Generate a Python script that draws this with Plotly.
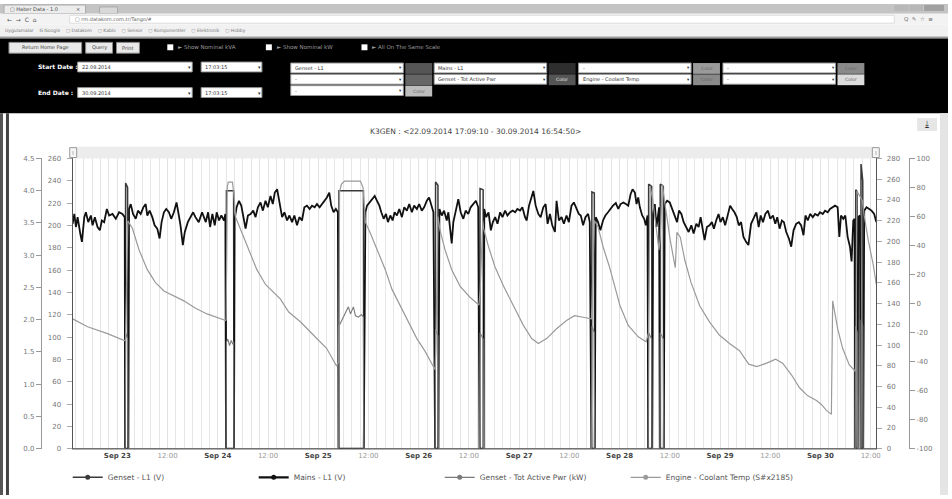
import numpy as np
import pandas as pd
import plotly.graph_objects as go

# ---------------- data (hours since 2014-09-22 00:00 UTC) ----------------
mains_h = [13.32, 13.72, 14.11, 14.51, 15.14, 15.54, 16.10, 16.49, 17.05, 17.68, 18.08, 18.63, 19.27, 19.82,
           20.30, 20.85, 21.49, 22.04, 22.84, 23.63, 24.42, 25.21, 25.77, 25.85, 26.64, 26.80, 27.20, 27.75,
           28.39, 28.94, 29.58, 30.21, 30.77, 31.16, 31.72, 32.35, 32.91, 33.54, 34.10, 34.57, 35.13, 35.68,
           36.32, 36.87, 37.51, 38.14, 38.70, 39.09, 39.65, 40.12, 40.84, 41.47, 42.11, 42.66, 43.45, 44.25,
           45.13, 45.68, 46.16, 46.71, 47.27, 47.74, 48.30, 48.85, 49.49, 49.81, 49.96, 51.87, 52.03, 52.50,
           53.06, 53.61, 54.09, 54.64, 55.20, 55.83, 56.47, 57.02, 57.58, 58.21, 58.77, 59.40, 59.96, 60.59,
           61.15, 61.62, 62.18, 62.73, 63.37, 63.92, 64.56, 65.11, 65.74, 66.30, 66.93, 67.49, 68.12, 68.68,
           69.31, 69.95, 70.50, 71.14, 71.69, 72.33, 72.96, 73.52, 74.07, 74.63, 75.10, 75.66, 76.21, 76.69,
           76.85, 82.87, 83.27, 83.66, 84.30, 84.85, 85.49, 86.04, 86.60, 87.07, 87.63, 88.18, 88.66, 89.22,
           89.77, 90.25, 90.80, 91.36, 91.99, 92.55, 93.18, 93.74, 94.37, 94.92, 95.56, 96.11, 96.75, 97.30,
           97.94, 98.49, 98.97, 99.52, 99.92, 100.71, 100.95, 101.51, 102.06, 102.70, 103.09, 103.49, 103.89,
           104.28, 104.84, 105.47, 106.03, 106.66, 107.22, 107.85, 108.41, 109.04, 109.67, 110.23, 110.54,
           111.50, 111.65, 112.13, 112.69, 113.24, 113.72, 114.27, 114.83, 115.46, 116.02, 116.65, 117.21,
           117.84, 118.47, 119.03, 119.58, 120.22, 120.77, 121.41, 121.81, 122.36, 122.99, 123.39, 123.95,
           124.58, 125.14, 125.77, 126.33, 126.80, 127.36, 127.91, 128.55, 128.94, 129.50, 130.13, 130.69,
           131.32, 131.88, 132.51, 133.07, 133.70, 134.25, 134.73, 135.29, 135.84, 136.48, 136.87, 137.27,
           138.06, 138.30, 138.85, 139.41, 140.04, 140.60, 141.23, 141.79, 142.42, 143.10, 143.69, 144.24,
           144.88, 145.51, 146.07, 146.62, 147.10, 147.65, 148.05, 148.45, 148.84, 149.40, 149.87, 150.27,
           150.67, 150.83, 151.78, 152.02, 152.41, 152.81, 153.21, 153.44, 153.60, 154.55, 154.79, 155.35,
           155.98, 156.54, 157.17, 157.73, 158.20, 158.76, 159.31, 159.95, 160.50, 161.14, 161.69, 162.33,
           162.88, 163.36, 163.91, 164.31, 164.86, 165.50, 166.05, 166.53, 167.08, 167.64, 168.11, 168.67,
           169.22, 169.86, 170.41, 170.89, 171.44, 172.00, 172.48, 173.03, 173.59, 174.22, 174.78, 175.41,
           176.04, 176.68, 177.23, 177.71, 178.26, 178.82, 179.45, 180.01, 180.64, 181.20, 181.67, 182.23,
           182.78, 183.26, 183.81, 184.45, 185.00, 185.56, 186.19, 186.83, 187.38, 187.94, 188.41, 188.97,
           189.52, 190.16, 190.71, 191.35, 191.90, 192.54, 193.09, 193.73, 194.28, 194.92, 195.47, 196.10,
           196.50, 196.90, 197.45, 197.93, 198.48, 199.04, 199.43, 199.83, 200.15, 200.31, 200.86, 201.02,
           201.42, 201.58, 202.21, 202.45, 203.00, 203.64, 204.19, 204.83, 205.33]
mains_v = [217.0, 226.5, 213.9, 223.4, 207.6, 199.6, 223.4, 228.1, 218.6, 225.0, 215.5, 223.4, 213.9, 210.7,
           220.2, 218.6, 231.3, 225.0, 226.5, 221.8, 228.1, 226.5, 223.4, 0, 0, 231.3, 236.0, 226.5,
           221.8, 229.7, 226.5, 232.9, 236.0, 225.0, 229.7, 223.4, 215.5, 212.3, 202.8, 218.6, 228.1, 231.3,
           228.1, 221.8, 228.1, 237.6, 225.0, 215.5, 196.5, 209.1, 218.6, 223.4, 228.1, 223.4, 218.6, 228.1,
           218.6, 228.1, 213.9, 226.5, 215.5, 228.1, 220.2, 225.0, 220.2, 226.5, 0, 0, 221.8, 232.9,
           239.2, 234.5, 223.4, 212.3, 225.0, 226.5, 229.7, 223.4, 232.9, 237.6, 229.7, 239.2, 232.9, 243.9,
           236.0, 247.1, 250.3, 236.0, 223.4, 228.1, 220.2, 225.0, 218.6, 225.0, 215.5, 223.4, 220.2, 232.9,
           234.5, 231.3, 234.5, 232.9, 236.0, 232.9, 236.0, 239.2, 242.4, 247.1, 234.5, 228.1, 231.3, 228.1,
           0, 0, 228.1, 234.5, 237.6, 240.8, 243.9, 239.2, 234.5, 228.1, 221.8, 226.5, 218.6, 225.0,
           220.2, 228.1, 225.0, 231.3, 223.4, 232.9, 229.7, 236.0, 228.1, 234.5, 231.3, 236.0, 229.7, 232.9,
           239.2, 242.4, 234.5, 228.1, 0, 0, 231.3, 225.0, 229.7, 220.2, 228.1, 210.7, 198.1,
           218.6, 229.7, 240.8, 228.1, 221.8, 229.7, 226.5, 232.9, 236.0, 239.2, 232.9, 0,
           0, 231.3, 223.4, 228.1, 210.7, 218.6, 223.4, 217.0, 228.1, 223.4, 229.7, 225.0,
           228.1, 229.7, 228.1, 231.3, 229.7, 232.9, 223.4, 220.2, 234.5, 243.9, 248.7, 234.5,
           226.5, 223.4, 232.9, 236.0, 217.0, 226.5, 215.5, 209.1, 239.2, 220.2, 223.4, 217.0,
           225.0, 218.6, 234.5, 237.6, 231.3, 226.5, 225.0, 215.5, 223.4, 226.5, 218.6, 0,
           0, 223.4, 218.6, 210.7, 220.2, 225.0, 228.1, 231.3, 234.5, 237.0, 231.3, 236.0,
           237.6, 236.0, 234.5, 245.5, 250.3, 247.1, 236.0, 242.4, 232.9, 225.0, 221.8, 215.5,
           225.0, 0, 0, 226.5, 236.0, 213.9, 228.1, 232.9, 0, 0, 236.0, 239.2,
           237.6, 231.3, 223.4, 218.6, 229.7, 226.5, 218.6, 213.9, 209.1, 215.5, 207.6, 217.0,
           213.9, 223.4, 210.7, 201.2, 213.9, 215.5, 218.6, 212.3, 220.2, 226.5, 218.6, 223.4,
           215.5, 226.5, 234.5, 231.3, 228.1, 223.4, 215.5, 218.6, 204.4, 199.6, 196.5, 217.0,
           223.4, 228.1, 213.9, 225.0, 218.6, 226.5, 229.7, 221.8, 225.0, 217.0, 223.4, 212.3,
           220.2, 218.6, 209.1, 202.8, 194.9, 210.7, 217.0, 218.6, 215.5, 206.0, 225.0, 220.2,
           226.5, 223.4, 226.5, 225.0, 228.1, 226.5, 229.7, 228.1, 231.3, 232.9, 234.5, 232.9,
           204.4, 225.0, 221.8, 225.0, 204.4, 194.9, 180.7, 220.2, 221.8, 0, 0, 223.4,
           225.0, 0, 0, 229.7, 232.9, 231.3, 229.7, 226.5, 218.6]

genset_h = [13.32, 25.88, 25.98, 26.45, 26.58, 49.97, 50.06, 51.78, 51.86, 76.86, 76.95, 82.80, 82.88,
            99.94, 100.03, 100.60, 100.70, 110.56, 110.66, 111.40, 111.49, 137.29, 137.38, 137.96, 138.05,
            150.85, 150.94, 151.66, 151.76, 153.62, 153.71, 154.45, 154.54, 200.33, 200.42, 200.78, 200.86,
            201.60, 201.68, 202.10, 202.19, 205.33]
genset_v = [0, 0, 238, 234, 0, 0, 231, 231, 0, 0, 231, 231, 0,
            0, 239, 236, 0, 0, 233, 232, 0, 0, 230, 229, 0,
            0, 237, 235, 0, 0, 237, 235, 0, 0, 232, 230, 0,
            0, 255, 240, 0, 0]

power_h = [13.32, 25.88, 25.98, 26.45, 26.58, 49.97, 50.06, 50.40, 50.80, 51.20, 51.60, 51.78, 51.86,
           76.86, 76.95, 77.60, 78.50, 79.20, 79.70, 80.40, 80.90, 81.60, 82.30, 82.80, 82.88,
           99.94, 100.03, 100.60, 100.70, 110.56, 110.66, 111.40, 111.49, 137.29, 137.38, 137.96, 138.05,
           150.85, 150.94, 151.66, 151.76, 153.62, 153.71, 154.45, 154.54, 200.33, 200.42, 200.78, 200.86,
           201.60, 201.68, 202.10, 202.19, 205.33]
power_kw = [0, 0, 1.80, 1.70, 0, 0, 1.65, 1.70, 1.60, 1.68, 1.62, 1.66, 0,
            0, 1.90, 1.98, 2.09, 2.20, 2.09, 2.20, 2.06, 2.04, 2.08, 2.04, 0,
            0, 1.85, 1.75, 0, 0, 1.80, 1.70, 0, 0, 1.90, 1.80, 0,
            0, 1.80, 1.70, 0, 0, 1.80, 1.70, 0, 0, 1.90, 1.80, 0,
            0, 2.00, 1.90, 0, 0]

coolant_h = [13.32, 16.89, 21.65, 25.69, 25.95, 26.50, 27.60, 29.19, 31.16, 33.07, 35.14, 37.52, 39.90,
             42.58, 45.44, 49.89, 50.00, 50.25, 50.50, 51.50, 51.86, 52.27, 53.77, 55.43, 57.33, 59.40,
             61.38, 62.97, 64.95, 67.73, 70.89, 73.99, 76.37, 76.90, 77.10, 77.56, 78.27, 82.08, 82.70,
             83.27, 84.45, 86.05, 88.02, 89.62, 91.59, 93.49, 95.56, 97.54, 99.92, 100.10, 100.60, 101.10,
             102.30, 103.89, 105.87, 108.24, 110.40, 110.70, 111.30, 111.50, 112.69, 114.19, 116.26, 118.64,
             121.02, 123.00, 124.59, 126.56, 128.94, 131.32, 133.22, 135.29, 137.27, 137.40, 137.98, 138.86,
             140.05, 141.55, 143.00, 144.10, 146.07, 148.45, 150.35, 150.90, 151.30, 151.90, 152.97, 153.40,
             153.70, 154.20, 154.90, 156.10, 157.30, 157.70, 158.50, 159.56, 161.06, 163.13, 165.51, 167.89,
             170.27, 172.65, 174.86, 176.76, 179.14, 181.28, 182.95, 185.09, 186.99, 188.89, 191.03, 192.22,
             193.41, 194.60, 194.91, 196.10, 197.29, 198.88, 200.31, 200.45, 200.70, 201.40, 202.00, 202.45,
             203.40, 204.60, 205.33]
coolant_c = [-10.5, -15.9, -20.7, -25.4, -25.0, 57.0, 51.9, 37.0, 23.4, 14.6, 8.7, 5.3, 1.9,
             -3.0, -7.1, -11.7, -11.0, 80.0, 83.7, 83.7, 75.0, 59.5, 48.5, 37.0, 23.4, 13.2,
             7.8, 3.1, -5.8, -12.5, -21.8, -30.8, -43.0, -40.0, 77.6, 82.4, 84.4, 84.4, 80.0,
             56.1, 48.5, 37.0, 23.4, 9.8, -1.5, -12.5, -24.1, -32.9, -45.6, -30.0, 60.0, 50.5,
             37.0, 23.4, 12.1, 4.4, -1.0, 10.0, 57.3, 51.9, 39.2, 25.6, 12.1, -1.5,
             -15.0, -24.1, -27.5, -24.1, -17.3, -11.7, -8.3, -9.4, -10.5, 0.0, 57.3, 52.8,
             39.2, 25.6, 11.2, -1.5, -15.0, -22.9, -26.3, -20.0, 81.0, 72.0, 47.1, 37.0,
             45.0, 82.4, 67.5, 43.7, 24.8, 49.2, 45.8, 30.2, 14.6, -1.5, -12.7, -21.8,
             -27.5, -32.5, -41.7, -43.4, -41.0, -38.3, -41.0, -49.2, -58.0, -63.4, -66.8, -69.5,
             -73.6, -76.3, 1.9, -17.3, -30.8, -42.2, -46.6, -40.0, 77.6, 74.2, 70.9, 60.7,
             43.7, 26.8, 13.2]

series_names = ["Genset - L1 (V)", "Mains - L1 (V)", "Genset - Tot Active Pwr (kW)",
                "Engine - Coolant Temp (S#x2185)"]
x_tick_labels = ["Sep 23", "12:00", "Sep 24", "12:00", "Sep 25", "12:00", "Sep 26", "12:00",
                 "Sep 27", "12:00", "Sep 28", "12:00", "Sep 29", "12:00", "Sep 30", "12:00"]
kw_ticks = [0.0, 0.5, 1.0, 1.5, 2.0, 2.5, 3.0, 3.5, 4.0, 4.5]
temp_ticks = [-100, -80, -60, -40, -20, 0, 20, 40, 60, 80, 100]
title_text = "K3GEN : &lt;22.09.2014 17:09:10 - 30.09.2014 16:54:50&gt;"

# ---------------- helpers ----------------
base = pd.Timestamp("2014-09-22 00:00")
def to_time(hrs):
    return base + pd.to_timedelta(np.asarray(hrs, dtype=float), unit="h")

W, H = 952, 499
def X(px):
    return px / W
def Y(py):
    return 1 - py / H

shapes, annos = [], []
def rect(x0, y0, x1, y1, fill, line=None, lw=1):
    shapes.append(dict(type="rect", xref="paper", yref="paper", x0=X(x0), x1=X(x1), y0=Y(y1), y1=Y(y0),
                       fillcolor=fill, line=dict(width=lw if line else 0, color=line or fill), layer="above"))
def text(px, py, s, size=6, color="#333", anchor="left", family="DejaVu Sans"):
    annos.append(dict(x=X(px), y=Y(py), xref="paper", yref="paper", text=s, showarrow=False,
                      xanchor=anchor, yanchor="middle", font=dict(size=size, color=color, family=family)))

FONT = "DejaVu Sans"
C_GEN, C_MAINS, C_PWR, C_TEMP = "#3a3a3a", "#111111", "#7a7a7a", "#9a9a9a"

fig = go.Figure()
fig.add_trace(go.Scatter(x=to_time(genset_h), y=genset_v, mode="lines", yaxis="y",
                         line=dict(color=C_GEN, width=1.5), showlegend=False))
fig.add_trace(go.Scatter(x=to_time(mains_h), y=mains_v, mode="lines", yaxis="y2",
                         line=dict(color=C_MAINS, width=1.8), showlegend=False))
fig.add_trace(go.Scatter(x=to_time(power_h), y=power_kw, mode="lines", yaxis="y3",
                         line=dict(color=C_PWR, width=1.1), showlegend=False))
fig.add_trace(go.Scatter(x=to_time(coolant_h), y=coolant_c, mode="lines", yaxis="y4",
                         line=dict(color=C_TEMP, width=1.2), showlegend=False))
# legend entries
for name, col, w in zip(series_names, [C_GEN, C_MAINS, C_PWR, C_TEMP], [1.5, 2.2, 1.2, 1.2]):
    fig.add_trace(go.Scatter(x=[None], y=[None], mode="lines+markers", name=name,
                             line=dict(color=col, width=w), marker=dict(color=col, size=5)))

tickfont = dict(size=7, color="#777", family=FONT)
ydom = [47 / H, 342 / H]
fig.update_layout(
    width=W, height=H, margin=dict(l=0, r=0, t=0, b=0),
    paper_bgcolor="white", plot_bgcolor="white", font=dict(family=FONT),
    xaxis=dict(domain=[73 / W, 880 / W], type="date",
               range=["2014-09-22 13:20", "2014-09-30 13:20"],
               tickmode="array", tickvals=pd.date_range("2014-09-23 00:00", periods=16, freq="12h"),
               ticktext=["<b>%s</b>" % s if s.startswith("Sep") else "<span style='color:#999'>%s</span>" % s
                         for s in x_tick_labels],
               tickfont=dict(size=7, color="#444", family=FONT), ticks="", showline=True,
               linecolor="#b0b0b0", linewidth=1, showgrid=True, gridcolor="#e2e2e2", zeroline=False,
               minor=dict(tickmode="linear", tick0="2014-09-22 00:00", dtick=2 * 3600 * 1000,
                          showgrid=True, gridcolor="#e6e6e6", gridwidth=1)),
    yaxis=dict(domain=ydom, range=[0, 260], dtick=20, side="left", anchor="x", showgrid=False,
               zeroline=False, showline=True, linecolor="#555", linewidth=1.2, ticks="outside",
               ticklen=5, tickcolor="#aaa", tickfont=tickfont, ticklabelstandoff=4),
    yaxis2=dict(range=[0, 280], dtick=20, side="right", anchor="x", overlaying="y", showgrid=False,
                zeroline=False, showline=True, linecolor="#555", linewidth=1.2, ticks="outside",
                ticklen=5, tickcolor="#aaa", tickfont=tickfont, ticklabelstandoff=3),
    yaxis3=dict(range=[0, 4.5], tickmode="array", tickvals=kw_ticks, tickformat=".1f", side="left",
                anchor="free", position=41 / W, overlaying="y", showgrid=False, zeroline=False,
                showline=True, linecolor="#999", ticks="outside", ticklen=5, tickcolor="#999",
                tickfont=tickfont),
    yaxis4=dict(range=[-100, 100], tickmode="array", tickvals=temp_ticks,
                ticktext=[str(v) for v in temp_ticks], side="right", anchor="free", position=913 / W,
                overlaying="y", showgrid=False, zeroline=False, showline=True, linecolor="#999",
                ticks="outside", ticklen=5, tickcolor="#999", tickfont=tickfont),
    legend=dict(orientation="h", x=68 / W, y=Y(481), xanchor="left", yanchor="middle",
                entrywidth=141, entrywidthmode="pixels", itemwidth=30,
                font=dict(size=7.5, color="#555", family=FONT), bgcolor="rgba(0,0,0,0)"),
    showlegend=True,
)

# ---------------- browser / page decoration ----------------
rect(0, 0, W, 10, "#c4c4c4")
rect(4, 1, 86, 10, "#ececec", "#aaa")
text(8, 5.5, "▢ Haber Data - 1.0", 5, "#444")
text(74, 5.5, "×", 5, "#444")
rect(100, 3, 118, 10, "#d8d8d8", "#aaa")
rect(898, 1, 912, 7, "#b8b8b8"); rect(913, 1, 927, 7, "#b8b8b8"); rect(928, 1, 948, 7, "#a0a0a0")
rect(0, 10, W, 21, "#f3f3f3")
text(5, 15.5, "←  →  C  ⌂", 6, "#555")
rect(70, 11.5, 898, 19.5, "#ffffff", "#dddddd")
text(73, 15.5, "▢ rm.datakom.com.tr/Tango/#", 5, "#666")
text(906, 15.5, "Q  ✎  ☆  ≡", 5.5, "#666")
rect(0, 21, W, 33, "#f1f1f1")
text(3, 27, "Uygulamalar    G Google    ▢ Datakom    ▢ Kablo    ▢ Sensor    ▢ Komponentler    ▢ Elektronik    ▢ Hobby",
     4.5, "#777")
rect(0, 33, W, 35, "#9a9a9a")
rect(0, 35, W, 111, "#000000")
for (a, b, s) in [(9, 82, "Return Home Page"), (86, 113, "Query"), (117, 140, "Print")]:
    rect(a, 39, b, 50, "#e9e9e9", "#888")
    text((a + b) / 2, 44.5, s, 5, "#444", anchor="center")
for (cx, s) in [(168, "► Show Nominal kVA"), (267, "► Show Nominal kW"), (363, "► All On The Same Scale")]:
    rect(cx, 41, cx + 6, 47, "#ffffff")
    text(cx + 9, 44, s, 5.5, "#9a9a9a")
for (yy, lab, dt) in [(64, "Start Date :", "22.09.2014"), (90, "End Date :", "30.09.2014")]:
    text(36, yy, "<b>" + lab + "</b>", 6, "#ffffff")
    rect(78, yy - 5, 193, yy + 5, "#ffffff", "#999")
    text(80, yy, dt, 5, "#333")
    text(187, yy, "▾", 5, "#333")
    rect(202, yy - 5, 263, yy + 5, "#ffffff", "#999")
    text(204, yy, "17:03:15", 5, "#333")
    text(257, yy, "▾", 5, "#333")
cols = [(292, 405, ["Genset - L1", "-", "-"], [("#555", ""), ("#666", ""), ("#bdbdbd", "Color")]),
        (436, 549, ["Mains - L1", "Genset - Tot Active Pwr"], [("#2e2e2e", ""), ("#555", "Color")]),
        (581, 694, ["-", "Engine - Coolant Temp"], [("#9a9a9a", "Color"), ("#8a8a8a", "Color")]),
        (726, 839, ["-", "-"], [("#8a8a8a", "Color"), ("#dcdcdc", "Color")])]
for (a, b, labels, colors) in cols:
    for i, lab in enumerate(labels):
        y0 = 60 + i * 11.5
        rect(a, y0, b, y0 + 10, "#ffffff", "#999")
        text(a + 2, y0 + 5, lab, 5, "#333")
        text(b - 6, y0 + 5, "▾", 4.5, "#333")
        col, ct = colors[i]
        rect(b + 2, y0, b + 29, y0 + 11, col)
        if ct:
            text(b + 15.5, y0 + 5.5, ct, 4.5, "#eeeeee" if col in ("#555",) else "#666", anchor="center")

# chart frame
rect(0, 111, 3, H, "#555555")
rect(6, 111, 9, H, "#444444")
rect(944, 111, W, H, "#e4e4e4")
text(478, 130, title_text, 7.5, "#444", anchor="center")
rect(921, 116, 941, 129, "#e6e6e6")
text(931, 122, "⤓", 9, "#333", anchor="center")
# navigator band
rect(73, 145, 880, 157, "#ececec")
rect(70, 146, 77, 156, "#f6f6f6", "#999")
rect(876, 146, 883, 156, "#f6f6f6", "#999")
text(73.5, 151, "⁞", 6, "#777", anchor="center")
text(879.5, 151, "⁞", 6, "#777", anchor="center")

fig.update_layout(shapes=shapes, annotations=annos)
fig.write_html("out.html", config={"displayModeBar": False},
               post_script="document.body.style.margin='0';document.body.style.overflow='hidden';")
